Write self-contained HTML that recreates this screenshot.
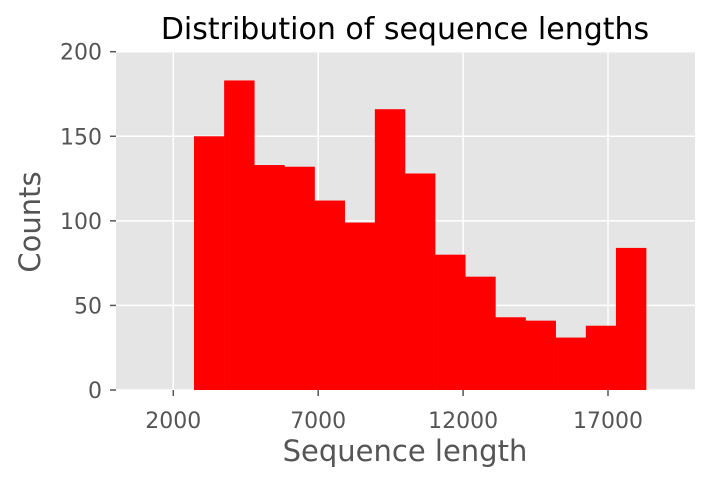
<!DOCTYPE html>
<html><head><meta charset="utf-8"><style>
body{margin:0;background:#fff}
svg text{font-family:"DejaVu Sans","Liberation Sans",sans-serif}
</style></head><body>
<svg id="chart" width="714" height="482" xmlns="http://www.w3.org/2000/svg">
<rect x="116" y="51.7" width="579" height="338.3" fill="#e5e5e5"/>
<g id="grid"></g>
<g id="bars"></g>
<g id="axes"></g>
<text x="405" y="39" text-anchor="middle" font-size="30" fill="#000">Distribution of sequence lengths</text>
<text x="405" y="461" text-anchor="middle" font-size="29" fill="#555">Sequence length</text>
<text transform="translate(40,222) rotate(-90)" text-anchor="middle" font-size="29" fill="#555">Counts</text>
</svg>
<script>
const binStart = 2714;
const binWidth = 1040;
const counts = [150,183,133,132,112,99,166,128,80,67,43,41,31,38,84];
const xTicks = [2000,7000,12000,17000];
const yTicks = [0,50,100,150,200];
const X0=116,X1=695,Y0=390,Y1=51.7,XMIN=23,XMAX=20002,YMAX=200;
const ns="http://www.w3.org/2000/svg";
function sx(v){return X0+(v-XMIN)/(XMAX-XMIN)*(X1-X0);}
function sy(v){return Y0-(v/YMAX)*(Y0-Y1);}
function mk(t,a,p){const e=document.createElementNS(ns,t);for(const k in a)e.setAttribute(k,a[k]);p.appendChild(e);return e;}
const grid=document.getElementById('grid'),bars=document.getElementById('bars'),axes=document.getElementById('axes');
yTicks.forEach(v=>{
  const l=mk('line',{x1:X0,x2:X1,y1:sy(v),y2:sy(v),stroke:'#fff','stroke-width':1.5},grid);
  
  
  const t=mk('line',{x1:X0-6,x2:X0,y1:sy(v),y2:sy(v),stroke:'#555','stroke-width':1.5},axes);
  
  
  const tx=mk('text',{x:X0-14,y:sy(v)+8,'text-anchor':'end','font-size':'22',fill:'#555'},axes);
  tx.textContent=v;
  
  
});
xTicks.forEach(v=>{
  const l=mk('line',{x1:sx(v),x2:sx(v),y1:Y0,y2:Y1,stroke:'#fff','stroke-width':1.5},grid);
  
  
  const t=mk('line',{x1:sx(v),x2:sx(v),y1:Y0,y2:Y0+6,stroke:'#555','stroke-width':1.5},axes);
  
  
  const tx=mk('text',{x:sx(v),y:Y0+38,'text-anchor':'middle','font-size':'22',fill:'#555'},axes);
  tx.textContent=v;
  
  
});
counts.forEach((c,i)=>{
  const a=sx(binStart+i*binWidth),b=sx(binStart+(i+1)*binWidth);
  const r=mk('rect',{x:a,y:sy(c),width:b-a+0.3,height:Y0-sy(c),fill:'#ff0000'},bars);
  
  
});
</script>
</body></html>
